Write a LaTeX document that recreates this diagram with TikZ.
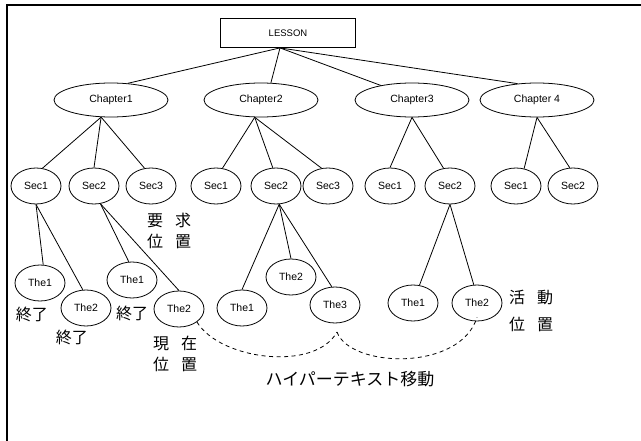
\documentclass[tikz,border=0pt]{standalone}
\usepackage{fontspec}
\setmainfont{Liberation Sans}
\newfontfamily\jp{Noto Sans CJK JP}
\usetikzlibrary{shapes.geometric}
\begin{document}
\begin{tikzpicture}[x=1pt,y=-1pt,line width=0.8pt,
  box/.style={draw,rectangle,minimum width=135pt,minimum height=29pt,inner sep=0pt,font=\fontsize{9.5}{11}\selectfont},
  chap/.style={draw,ellipse,minimum width=114pt,minimum height=34pt,inner sep=0pt,font=\fontsize{10.5}{12}\selectfont},
  sec/.style={draw,ellipse,minimum width=50pt,minimum height=36pt,inner sep=0pt,font=\fontsize{10.5}{12}\selectfont},
  thenode/.style={draw,ellipse,minimum width=50pt,minimum height=36pt,inner sep=0pt,font=\fontsize{10.5}{12}\selectfont},
  lab/.style={inner sep=0pt,font=\jp\fontsize{16}{18}\selectfont},
  hyp/.style={dash pattern=on 4pt off 3.5pt}]
\useasboundingbox (0,0) rectangle (641,441);
\fill[white] (0,0) rectangle (641,441);
% frame
\draw[line width=1.4pt] (7,441) -- (7,5) -- (641,5);
% nodes
\node[box] (L) at (288,33) {LESSON};
\node[chap] (C1) at (111,100) {Chapter1};
\node[chap] (C2) at (261,100) {Chapter2};
\node[chap] (C3) at (412,100) {Chapter3};
\node[chap] (C4) at (537,100) {Chapter 4};
\node[sec] (S11) at (36,186) {Sec1};
\node[sec] (S12) at (94,186) {Sec2};
\node[sec] (S13) at (151,186) {Sec3};
\node[sec] (S21) at (216,186) {Sec1};
\node[sec] (S22) at (276,186) {Sec2};
\node[sec] (S23) at (328,186) {Sec3};
\node[sec] (S31) at (390,186) {Sec1};
\node[sec] (S32) at (450,186) {Sec2};
\node[sec] (S41) at (516,186) {Sec1};
\node[sec] (S42) at (573,186) {Sec2};
\node[thenode] (T111) at (40,283) {The1};
\node[thenode] (T112) at (86,308) {The2};
\node[thenode] (T121) at (132,280) {The1};
\node[thenode] (T122) at (179,309) {The2};
\node[thenode] (T221) at (242,308) {The1};
\node[thenode] (T222) at (291,277) {The2};
\node[thenode] (T223) at (335,305) {The3};
\node[thenode] (U1) at (413,303) {The1};
\node[thenode] (U2) at (477,303) {The2};
% connectors
\draw ([xshift=-8pt]L.south) -- (C1.45);
\draw ([xshift=-8pt]L.south) -- (C2.60);
\draw ([xshift=-8pt]L.south) -- (C3.155);
\draw ([xshift=-8pt]L.south) -- (C4.140);
\draw (C1.240) -- (S11.70);
\draw (C1.240) -- (S12.north);
\draw (C1.240) -- (S13.110);
\draw (C2.250) -- (S21.70);
\draw (C2.250) -- (S22.100);
\draw (C2.250) -- (S23.110);
\draw (C3.south) -- (S31.north);
\draw (C3.south) -- (S32.110);
\draw (C4.south) -- (S41.65);
\draw (C4.south) -- (S42.100);
\draw (S11.south) -- (T111.80);
\draw (S11.south) -- (T112.100);
\draw (S12.290) -- (T121.100);
\draw (S12.290) -- (T122.north);
\draw (S22.280) -- (T221.north);
\draw (S22.280) -- (T222.north);
\draw (S22.280) -- (T223.100);
\draw (S32.south) -- (U1.70);
\draw (S32.south) -- (U2.100);
% hypertext jumps
\coordinate (cusp) at (337,332);
\draw[hyp] (T122.south east) .. controls (220,360) and (315,372) .. (cusp);
\draw[hyp] (cusp) .. controls (350,368) and (460,372) .. ([yshift=4pt]U2.south);
% labels
\node[lab] (k1) at (32,314) {終了};
\node[lab] (k2) at (72,337) {終了};
\node[lab] (k3) at (132,313) {終了};
\node[lab] (y1) at (169,220) {要\hspace{12pt}求};
\node[lab] (y2) at (169,241) {位\hspace{12pt}置};
\node[lab] (g1) at (175,343) {現\hspace{12pt}在};
\node[lab] (g2) at (175,364) {位\hspace{12pt}置};
\node[lab] (a1) at (531,297) {活\hspace{12pt}動};
\node[lab] (a2) at (531,324) {位\hspace{12pt}置};
\node[lab,font=\jp\fontsize{17}{19}\selectfont] (h) at (350,379) {ハイパーテキスト移動};
\end{tikzpicture}
\end{document}
